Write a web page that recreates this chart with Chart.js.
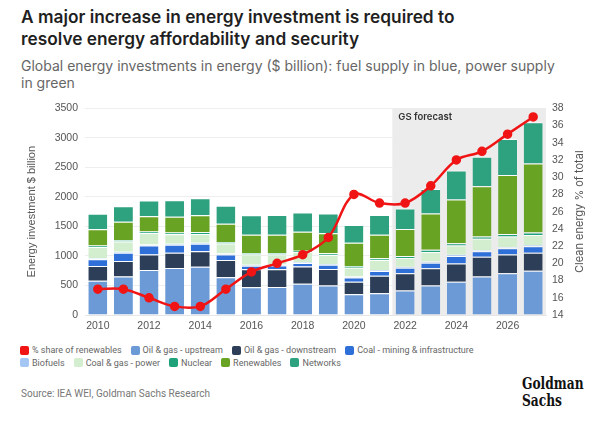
<!DOCTYPE html>
<html lang="en">
<head>
<meta charset="UTF-8" />
<title>Energy investment</title>
<script src="https://cdn.jsdelivr.net/npm/chart.js"></script>
<style>
  body { margin: 0; width: 600px; height: 423px; background: #fff; font-family: Inter, "Open Sans", sans-serif; position: relative; overflow: hidden; }
  #title { position: absolute; left: 21px; top: 6px; width: 575px; font-size: 17.3px; font-weight: 600; line-height: 21.5px; color: #1f1f1f; white-space: nowrap; }
  #subtitle { position: absolute; left: 21px; top: 57px; width: 575px; font-size: 14px; line-height: 17px; color: #666; white-space: nowrap; }
  #chartBox { position: absolute; left: 25px; top: 95px; width: 565px; height: 245px; }
  #legend { position: absolute; left: 20px; top: 344px; font-family: Roboto, sans-serif; font-size: 9px; color: #666; }
  .row { display: flex; height: 12.5px; align-items: center; }
  .item { display: flex; align-items: center; margin-right: 9px; }
  .sw { width: 9px; height: 9px; border-radius: 2px; margin-right: 3px; }
  #source { position: absolute; left: 21px; top: 388px; font-family: Roboto, sans-serif; font-size: 10px; color: #777; }
  #logo { position: absolute; left: 522px; top: 375px; font-family: "DejaVu Serif Condensed", "Liberation Serif", serif; font-weight: bold; font-size: 17px; line-height: 17px; color: #111; transform: scaleX(0.8); transform-origin: left top; }
</style>
</head>
<body>
  <div id="title">A major increase in energy investment is required to<br>resolve energy affordability and security</div>
  <div id="subtitle">Global energy investments in energy ($ billion): fuel supply in blue, power supply<br>in green</div>
  <div id="chartBox"><canvas id="chart" width="565" height="245"></canvas></div>
  <div id="legend"></div>
  <div id="source">Source: IEA WEI, Goldman Sachs Research</div>
  <div id="logo">Goldman<br>Sachs</div>

<script>
  const years = ['2010','2011','2012','2013','2014','2015','2016','2017','2018','2019','2020','2021','2022','2023','2024','2025','2026','2027'];

  // $ billion, stacked from the bottom
  const upstream     = [580, 650, 760, 795, 815, 640, 470, 475, 530, 500, 350, 370, 415, 500, 565, 650, 705, 750];
  const downstream   = [250, 265, 265, 260, 265, 290, 305, 300, 290, 280, 215, 295, 290, 290, 305, 335, 320, 305];
  const coalMining   = [115, 140, 150, 135, 125, 95, 60, 65, 60, 70, 70, 80, 95, 95, 130, 95, 105, 110];
  const biofuels     = [15, 15, 18, 18, 18, 15, 15, 15, 15, 15, 15, 15, 15, 20, 20, 20, 20, 20];
  const coalGasPower = [190, 175, 195, 160, 150, 170, 175, 170, 170, 150, 150, 170, 150, 160, 155, 190, 180, 170];
  const nuclear      = [25, 25, 25, 30, 30, 25, 25, 25, 25, 30, 30, 30, 35, 40, 40, 40, 40, 40];
  const renewables   = [275, 310, 260, 265, 285, 310, 310, 310, 320, 340, 392, 400, 455, 615, 740, 850, 1000, 1170];
  const networks     = [265, 260, 265, 280, 290, 305, 330, 335, 325, 335, 300, 335, 350, 415, 490, 500, 610, 700];

  // % of total (right axis)
  const renewShare = [17, 17, 16, 15, 15, 17, 19, 20, 21, 23, 28, 27, 27, 29, 32, 33, 35, 37];

  const forecastStart = 12; // 2022

  const barSeries = [
    { label: 'Oil & gas - upstream', data: upstream, color: '#6b9ad6' },
    { label: 'Oil & gas - downstream', data: downstream, color: '#2c3e58' },
    { label: 'Coal - mining & infrastructure', data: coalMining, color: '#2e6fd8' },
    { label: 'Biofuels', data: biofuels, color: '#a3c7f2' },
    { label: 'Coal & gas - power', data: coalGasPower, color: '#d2eecf' },
    { label: 'Nuclear', data: nuclear, color: '#1fa27a' },
    { label: 'Renewables', data: renewables, color: '#69a323' },
    { label: 'Networks', data: networks, color: '#2ea17f' }
  ];

  const datasets = [{
    type: 'line',
    label: '% share of renewables',
    data: renewShare,
    yAxisID: 'y1',
    borderColor: '#f01414',
    backgroundColor: '#f01414',
    borderWidth: 2.5,
    pointRadius: 3.5,
    pointHoverRadius: 3.5,
    tension: 0.35,
    order: 0
  }];
  barSeries.forEach(s => {
    datasets.push({
      type: 'bar',
      label: s.label,
      data: s.data,
      yAxisID: 'y',
      stack: 'inv',
      backgroundColor: s.color,
      borderColor: 'rgba(255,255,255,0.85)',
      borderWidth: { top: 1, left: 0, right: 0, bottom: 0 },
      borderSkipped: false,
      barPercentage: 0.74,
      categoryPercentage: 1,
      order: 1
    });
  });

  // shaded forecast area behind the bars, and the right axis title read bottom-up
  const forecastPlugin = {
    id: 'forecast',
    beforeDatasetsDraw(chart) {
      const { ctx, chartArea, scales } = chart;
      const x0 = (scales.x.getPixelForValue(forecastStart - 1) + scales.x.getPixelForValue(forecastStart)) / 2;
      ctx.save();
      ctx.fillStyle = '#ececec';
      ctx.fillRect(x0, chartArea.top, chartArea.right - x0, chartArea.bottom - chartArea.top);
      ctx.fillStyle = '#333';
      ctx.font = '600 9.5px Inter, sans-serif';
      ctx.textBaseline = 'top';
      ctx.fillText('GS forecast', x0 + 6, chartArea.top + 4);
      ctx.restore();
    },
    afterDraw(chart) {
      const { ctx, chartArea } = chart;
      ctx.save();
      ctx.translate(chart.width - 10, (chartArea.top + chartArea.bottom) / 2);
      ctx.rotate(-Math.PI / 2);
      ctx.fillStyle = '#555';
      ctx.font = '11px Inter, sans-serif';
      ctx.textAlign = 'center';
      ctx.textBaseline = 'middle';
      ctx.fillText('Clean energy % of total', 0, 0);
      ctx.restore();
    }
  };

  new Chart(document.getElementById('chart'), {
    data: { labels: years, datasets },
    plugins: [forecastPlugin],
    options: {
      responsive: false,
      maintainAspectRatio: false,
      animation: false,
      layout: { padding: { top: 12, bottom: 0, left: 0, right: 0 } },
      plugins: { legend: { display: false }, tooltip: { enabled: false } },
      scales: {
        x: {
          stacked: true,
          grid: { display: false, drawTicks: false },
          border: { color: '#e6e6e6' },
          ticks: {
            color: '#555', font: { size: 10.5 }, autoSkip: false, maxRotation: 0, padding: 5,
            callback: (v, i) => (i % 2 === 0 ? years[i] : '')
          },
          afterFit: s => { s.height = 25; }
        },
        y: {
          stacked: true,
          min: 0, max: 3500,
          ticks: { stepSize: 500, color: '#555', font: { size: 10.5 }, padding: 7, callback: v => String(v) },
          grid: { color: '#eeeeee', drawTicks: false },
          border: { display: false },
          title: { display: true, text: 'Energy investment $ billion', color: '#555', font: { size: 11 }, padding: 0 },
          afterFit: s => { s.width = 60; }
        },
        y1: {
          position: 'right',
          min: 14, max: 38,
          ticks: { stepSize: 2, color: '#555', font: { size: 10.5 }, padding: 6 },
          grid: { display: false, drawTicks: false },
          border: { display: false },
          afterFit: s => { s.width = 44; }
        }
      }
    }
  });

  // legend: first four items on the first row
  const legendItems = [{ label: '% share of renewables', color: '#f01414' }].concat(barSeries);
  const legend = document.getElementById('legend');
  let row;
  legendItems.forEach((it, i) => {
    if (i === 0 || i === 4) { row = document.createElement('div'); row.className = 'row'; legend.appendChild(row); }
    const el = document.createElement('div');
    el.className = 'item';
    el.innerHTML = `<span class="sw" style="background:${it.color}"></span>${it.label}`;
    row.appendChild(el);
  });
</script>
</body>
</html>
